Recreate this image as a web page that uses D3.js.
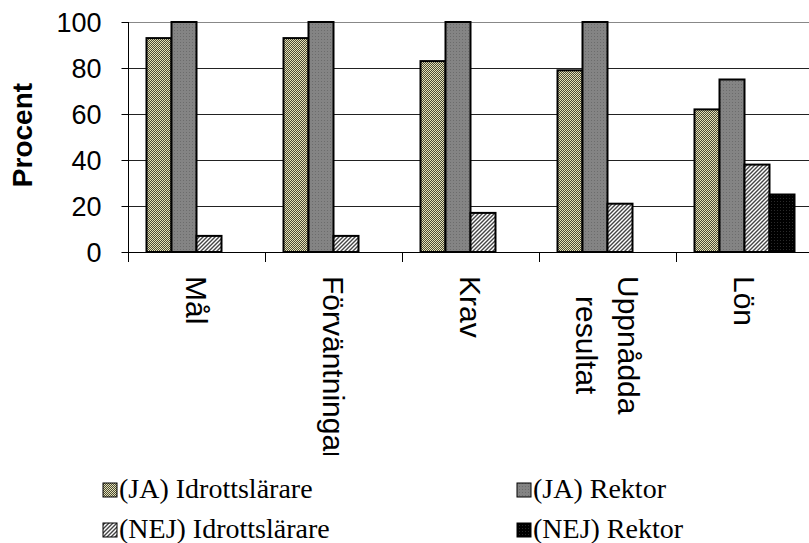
<!DOCTYPE html>
<html><head><meta charset="utf-8">
<script src="https://cdn.jsdelivr.net/npm/d3@7"></script>
<style>body{margin:0;background:#fff}svg{display:block}</style>
</head><body>
<script>
const categories = ["Mål", "Förväntningar", "Krav", "Uppnådda resultat", "Lön"];
const categoryLines = [["Mål"], ["Förväntningar"], ["Krav"], ["Uppnådda", "resultat"], ["Lön"]];
const seriesNames = ["(JA) Idrottslärare", "(JA) Rektor", "(NEJ) Idrottslärare", "(NEJ) Rektor"];
const jaIdrott = [93, 93, 83, 79, 62];
const jaRektor = [100, 100, 100, 100, 75];
const nejIdrott = [7, 7, 17, 21, 38];
const nejRektor = [0, 0, 0, 0, 25];
const yTicks = [0, 20, 40, 60, 80, 100];
const series = [jaIdrott, jaRektor, nejIdrott, nejRektor];

const W = 809, H = 543;
const pL = 128, pR = 813, pT = 22, pB = 252;

const svg = d3.select("body").append("svg").attr("width", W).attr("height", H);
const defs = svg.append("defs");

// patterns
const p0 = defs.append("pattern").attr("id", "pat0").attr("patternUnits", "userSpaceOnUse").attr("width", 2).attr("height", 2);
p0.append("rect").attr("width", 2).attr("height", 2).attr("fill", "#4a4a36");
p0.append("rect").attr("width", 1).attr("height", 1).attr("fill", "#e6e2b6");
p0.append("rect").attr("x", 1).attr("y", 1).attr("width", 1).attr("height", 1).attr("fill", "#e6e2b6");
const p1 = defs.append("pattern").attr("id", "pat1").attr("patternUnits", "userSpaceOnUse").attr("width", 3).attr("height", 3);
p1.append("rect").attr("width", 3).attr("height", 3).attr("fill", "#848484");
p1.append("rect").attr("width", 1).attr("height", 1).attr("fill", "#6c6c6c");
const p2 = defs.append("pattern").attr("id", "pat2").attr("patternUnits", "userSpaceOnUse").attr("width", 4).attr("height", 4);
p2.append("rect").attr("width", 4).attr("height", 4).attr("fill", "#ffffff");
p2.append("path").attr("d", "M-1,1 l2,-2 M0,4 l4,-4 M3,5 l2,-2").attr("stroke", "#444").attr("stroke-width", 1.4);
const p3 = defs.append("pattern").attr("id", "pat3").attr("patternUnits", "userSpaceOnUse").attr("width", 3).attr("height", 3);
p3.append("rect").attr("width", 3).attr("height", 3).attr("fill", "#000");
p3.append("rect").attr("width", 1).attr("height", 1).attr("fill", "#2a2a2a");
const fills = ["url(#pat0)", "url(#pat1)", "url(#pat2)", "url(#pat3)"];

const x = d3.scaleBand().domain(categories).range([pL, pR]).paddingInner(0).paddingOuter(0);
const xs = d3.scaleBand().domain(d3.range(4)).range([0, x.bandwidth()]).paddingInner(0).paddingOuter(0.74);
const y = d3.scaleLinear().domain([0, 100]).range([pB, pT]);

// gridlines
svg.append("g").selectAll("line").data(yTicks.filter(d => d > 0)).join("line")
  .attr("x1", pL).attr("x2", pR)
  .attr("y1", d => Math.round(y(d)) + 0.5).attr("y2", d => Math.round(y(d)) + 0.5)
  .attr("stroke", d => d === 100 ? "#888" : "#222").attr("stroke-width", 1);

// bars
const g = svg.append("g");
series.forEach((vals, si) => {
  g.selectAll(null).data(vals.map((v, i) => ({v, c: categories[i]})).filter(d => d.v > 0)).join("rect")
    .attr("x", d => x(d.c) + xs(si))
    .attr("y", d => y(d.v))
    .attr("width", xs.bandwidth())
    .attr("height", d => y(0) - y(d.v))
    .attr("fill", fills[si])
    .attr("stroke", "#000").attr("stroke-width", 2);
});

// y axis
const yAxis = d3.axisLeft(y).tickValues(yTicks).tickSize(7).tickPadding(20);
const ya = svg.append("g").attr("transform", `translate(${pL + 0.5},0)`).call(yAxis);
ya.select(".domain").attr("stroke", "#000").attr("d", `M0,${pT}V${pB}`);
ya.selectAll(".tick line").attr("stroke", "#000");
ya.selectAll(".tick text").attr("font-family", "Liberation Sans, Arial, sans-serif").attr("font-size", 27).attr("fill", "#000").attr("dy", "0.36em");

// x axis line and ticks
svg.append("line").attr("x1", pL).attr("x2", pR).attr("y1", pB + 0.5).attr("y2", pB + 0.5).attr("stroke", "#000");
svg.append("g").selectAll("line").data(categories).join("line")
  .attr("x1", (d, i) => Math.round(pL + (i + 1) * x.bandwidth()) + 0.5)
  .attr("x2", (d, i) => Math.round(pL + (i + 1) * x.bandwidth()) + 0.5)
  .attr("y1", pB).attr("y2", pB + 10).attr("stroke", "#000");
svg.append("line").attr("x1", pL + 0.5).attr("x2", pL + 0.5).attr("y1", pB).attr("y2", pB + 10).attr("stroke", "#000");

// x labels
defs.append("clipPath").attr("id", "lblclip").append("rect").attr("x", 0).attr("y", 255).attr("width", W).attr("height", 200);
const xl = svg.append("g").attr("clip-path", "url(#lblclip)");
const lblFont = "Liberation Sans, Arial, sans-serif";
categoryLines.forEach((lines, i) => {
  const cx = x(categories[i]) + x.bandwidth() / 2;
  const t = xl.append("text").attr("transform", `translate(${cx},276) rotate(90)`)
    .attr("font-family", lblFont).attr("font-size", 30).attr("fill", "#000");
  if (lines.length === 1) {
    t.append("tspan").attr("x", 0).attr("y", 11).text(lines[0]);
  } else {
    const t1 = t.append("tspan").attr("x", 0).attr("y", -10).text(lines[0]);
    const t2 = t.append("tspan").attr("y", 32).text(lines[1]);
    const w1 = t1.node().getComputedTextLength();
    const w2 = t2.node().getComputedTextLength();
    t2.attr("x", (w1 - w2) / 2);
  }
});

// y title
svg.append("text").attr("transform", "translate(32,135) rotate(-90)")
  .attr("text-anchor", "middle")
  .attr("font-family", "Liberation Sans, Arial, sans-serif").attr("font-weight", "bold").attr("font-size", 28)
  .attr("fill", "#000").text("Procent");

// legend
const legPos = [[103, 483], [517, 483], [103, 523], [517, 523]];
const lg = svg.append("g");
seriesNames.forEach((name, i) => {
  const [lx, ly] = legPos[i];
  lg.append("rect").attr("x", lx).attr("y", ly).attr("width", 14).attr("height", 14)
    .attr("fill", fills[i]).attr("stroke", "#000").attr("stroke-width", 1);
  lg.append("text").attr("x", lx + 16).attr("y", ly + 15)
    .attr("font-family", "Liberation Serif, Times New Roman, serif").attr("font-size", 28)
    .attr("fill", "#000").text(name);
});
</script>
</body></html>
